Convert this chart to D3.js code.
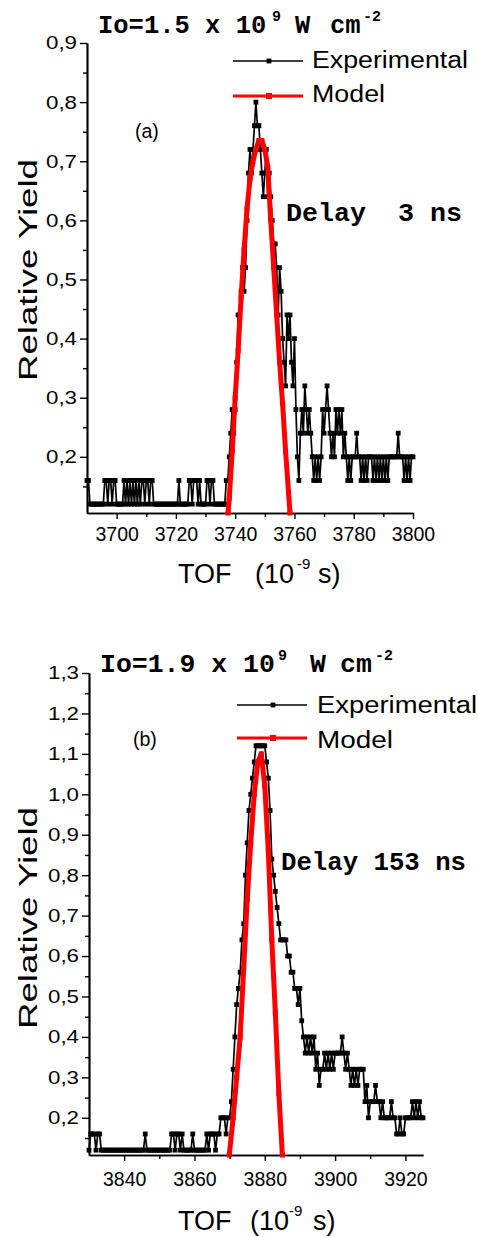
<!DOCTYPE html>
<html><head><meta charset="utf-8">
<script src="https://cdn.jsdelivr.net/npm/d3@7"></script>
<style>body{margin:0;background:#fff}</style>
</head><body><svg id="c" width="478" height="1237"></svg>
<script>
// ---------- Panel (a) data (TOF in ns, relative yield) ----------
const expA_t = [
3690,3690.5,3691,3691.5,3692,3692.5,3693,3693.5,3694,3694.5,
3695,3695.5,3696,3696.5,3697,3697.5,3698,3698.5,3699,3699.5,
3700,3700.5,3701,3701.5,3702,3702.5,3703,3703.5,3704,3704.5,
3705,3705.5,3706,3706.5,3707,3707.5,3708,3708.5,3709,3709.5,
3710,3710.5,3711,3711.5,3712,3712.5,3713,3713.5,3714,3714.5,
3715,3715.5,3716,3716.5,3717,3717.5,3718,3718.5,3719,3719.5,
3720,3720.5,3721,3721.5,3722,3722.5,3723,3723.5,3724,3724.5,
3725,3725.5,3726,3726.5,3727,3727.5,3728,3728.5,3729,3729.5,
3730,3730.5,3731,3731.5,3732,3732.5,3733,3733.5,3734,3734.5,
3735,3735.5,3736,3736.5,3737,3737.5,
3738,3738.5,3739,3739.5,3740,3740.5,3741,3741.5,3742,3742.5,
3743,3743.5,3744,3744.5,3745,3745.5,3746,3746.5,3747,3747.5,
3748,3748.5,3749,3749.5,3750,3750.5,3751,3751.5,3752,3752.5,
3753,3753.5,3754,3754.5,3755,3755.5,3756,3756.5,3757,3757.5,
3758,3758.5,3759,3759.5,3760,3760.5,3761,3761.5,3762,3762.5,
3763,3763.5,3764,3764.5,3765,3765.5,3766,3766.5,3767,3767.5,
3768,3768.5,3769,3769.5,3770,3770.5,3771,3771.5,3772,3772.5,
3773,3773.5,3774,3774.5,3775,3775.5,3776,3776.5,3777,3777.5,
3778,3778.5,3779,3779.5,3780,3780.5,3781,3781.5,3782,3782.5,
3783,3783.5,3784,3784.5,3785,3785.5,3786,3786.5,3787,3787.5,
3788,3788.5,3789,3789.5,3790,3790.5,3791,3791.5,3792,3792.5,
3793,3793.5,3794,3794.5,3795,3795.5,3796,3796.5,3797,3797.5,
3798,3798.5,3799,3799.5,3800];
const expA_y = [
.16,.16,.12,.12,.12,.12,.12,.12,.12,.12,
.12,.12,.16,.16,.12,.16,.16,.12,.16,.16,
.12,.12,.12,.12,.12,.16,.12,.16,.12,.16,
.12,.16,.12,.16,.12,.16,.12,.16,.16,.12,
.16,.16,.12,.16,.16,.12,.12,.12,.12,.12,
.12,.12,.12,.12,.12,.12,.12,.12,.12,.12,
.12,.12,.16,.12,.12,.12,.12,.12,.12,.16,
.16,.12,.16,.16,.16,.12,.16,.12,.12,.12,
.12,.16,.16,.12,.16,.16,.12,.12,.12,.12,
.12,.12,.12,.12,.16,.16,
.20,.24,.28,.24,.28,.36,.44,.44,.48,.52,
.48,.52,.60,.68,.72,.68,.72,.76,.80,.76,
.76,.72,.68,.64,.68,.72,.64,.68,.64,.60,
.56,.56,.52,.44,.52,.48,.40,.36,.32,.44,
.40,.44,.36,.32,.40,.28,.20,.16,.24,.28,
.24,.32,.28,.24,.28,.24,.20,.16,.20,.16,
.20,.16,.20,.28,.24,.28,.32,.28,.24,.20,
.24,.20,.28,.24,.28,.24,.28,.20,.24,.20,
.16,.20,.16,.20,.20,.20,.24,.20,.20,.16,
.20,.16,.20,.16,.20,.20,.20,.16,.20,.16,
.20,.16,.20,.16,.20,.16,.20,.16,.20,.20,
.20,.20,.20,.20,.24,.20,.20,.20,.16,.20,
.16,.20,.16,.20,.20];
const modA_t = [3737.6,3738,3739,3740,3741,3742,3743,3744,3745,3746,3747,3748,3749,3750,3751,3752,3753,3754,3755,3756,3757,3758,3758.5];
const modA_y = [0.105,0.13,0.21,0.30,0.38,0.47,0.55,0.62,0.67,0.70,0.72,0.735,0.735,0.72,0.69,0.60,0.52,0.44,0.36,0.29,0.21,0.14,0.105];
const xMajorA = [3700,3720,3740,3760,3780,3800];
const xMinorA = [3710,3730,3750,3770,3790];
const yMajorA = [0.2,0.3,0.4,0.5,0.6,0.7,0.8,0.9];
const yMinorA = [0.15,0.25,0.35,0.45,0.55,0.65,0.75,0.85];

// ---------- Panel (b) data ----------
const expB_t = [
3830,3830.5,3831,3831.5,3832,3832.5,3833,3833.5,3834,3834.5,
3835,3835.5,3836,3836.5,3837,3837.5,3838,3838.5,3839,3839.5,
3840,3840.5,3841,3841.5,3842,3842.5,3843,3843.5,3844,3844.5,
3845,3845.5,3846,3846.5,3847,3847.5,3848,3848.5,3849,3849.5,
3850,3850.5,3851,3851.5,3852,3852.5,3853,3853.5,3854,3854.5,
3855,3855.5,3856,3856.5,3857,3857.5,3858,3858.5,3859,3859.5,
3860,3860.5,3861,3861.5,3862,3862.5,3863,3863.5,3864,3864.5,
3865,3865.5,3866,3866.5,3867,3867.5,3868,3868.5,3869,3869.5,
3870,3870.5,3871,3871.5,3872,3872.5,3873,3873.5,3874,3874.5,
3875,3875.5,3876,3876.5,3877,3877.5,3878,3878.5,3879,3879.5,
3880,3880.5,3881,3881.5,3882,3882.5,3883,3883.5,3884,3884.5,
3885,3885.5,3886,3886.5,3887,3887.5,3888,3888.5,3889,3889.5,
3890,3890.5,3891,3891.5,3892,3892.5,3893,3893.5,3894,3894.5,
3895,3895.5,3896,3896.5,3897,3897.5,3898,3898.5,3899,3899.5,
3900,3900.5,3901,3901.5,3902,3902.5,3903,3903.5,3904,3904.5,
3905,3905.5,3906,3906.5,3907,3907.5,3908,3908.5,3909,3909.5,
3910,3910.5,3911,3911.5,3912,3912.5,3913,3913.5,3914,3914.5,
3915,3915.5,3916,3916.5,3917,3917.5,3918,3918.5,3919,3919.5,
3920,3920.5,3921,3921.5,3922,3922.5,3923,3923.5,3924,3924.5,
3925];
const expB_y = [
.12,.16,.16,.16,.12,.16,.16,.12,.12,.12,
.12,.12,.12,.12,.12,.12,.12,.12,.12,.12,
.12,.12,.12,.12,.12,.12,.12,.12,.12,.12,
.12,.12,.16,.12,.12,.12,.12,.12,.12,.12,
.12,.12,.12,.12,.12,.12,.12,.16,.16,.12,
.16,.16,.12,.16,.12,.12,.12,.12,.12,.16,
.12,.12,.12,.12,.12,.12,.12,.16,.12,.16,
.16,.16,.12,.16,.16,.20,.20,.20,.16,.20,
.20,.24,.32,.40,.48,.52,.56,.64,.68,.80,
.88,.96,1.00,1.04,1.08,1.12,1.12,1.12,1.12,1.12,
1.12,1.08,1.04,.96,.84,.80,.76,.72,.68,.64,
.64,.64,.64,.60,.60,.56,.56,.52,.52,.48,
.52,.44,.40,.36,.40,.36,.40,.36,.40,.32,
.36,.28,.32,.32,.36,.32,.36,.32,.36,.32,
.36,.36,.36,.36,.40,.36,.32,.36,.32,.28,
.32,.28,.32,.28,.32,.32,.32,.24,.28,.20,
.24,.24,.24,.28,.24,.24,.20,.24,.20,.20,
.20,.20,.24,.20,.20,.16,.16,.20,.16,.16,
.20,.20,.20,.20,.24,.20,.24,.20,.24,.20,
.20];
const modB_t = [3869.9,3871,3872,3873,3874,3875,3876,3877,3878,3879,3880,3881,3882,3883,3884,3885];
const modB_y = [0.108,0.20,0.30,0.40,0.57,0.74,0.88,1.00,1.08,1.10,1.02,0.86,0.64,0.46,0.26,0.108];
const xMajorB = [3840,3860,3880,3900,3920];
const xMinorB = [3850,3870,3890,3910];
const yMajorB = [0.2,0.3,0.4,0.5,0.6,0.7,0.8,0.9,1.0,1.1,1.2,1.3];
const yMinorB = [0.15,0.25,0.35,0.45,0.55,0.65,0.75,0.85,0.95,1.05,1.15,1.25];

const seriesNames = ["Experimental","Model"];

const SANS = "'Liberation Sans', Arial, sans-serif";
const MONO = "'Liberation Mono', 'Courier New', monospace";
const svg = d3.select("#c");

function drawPanel(p) {
  const x = d3.scaleLinear().domain(p.xDomain).range([p.x0, p.x1]);
  const y = d3.scaleLinear().domain(p.yDomain).range([p.y0, p.y1]);
  const g = svg.append("g");
  const fmt = v => d3.format(".1f")(v).replace(".", ",");

  const styleAxis = sel => {
    sel.select(".domain").attr("stroke", "#000").attr("stroke-width", 1.7);
    sel.selectAll(".tick line").attr("stroke", "#000").attr("stroke-width", 1.4);
    sel.selectAll("text").attr("font-family", SANS).attr("fill", "#000");
  };
  g.append("g").attr("transform", `translate(0,${p.y0})`)
    .call(d3.axisBottom(x).tickValues(p.xMinor).tickSize(4).tickFormat("").tickSizeOuter(0)).call(styleAxis);
  g.append("g").attr("transform", `translate(0,${p.y0})`)
    .call(d3.axisBottom(x).tickValues(p.xMajor).tickSize(6).tickPadding(p.xPad).tickSizeOuter(0).tickFormat(d3.format("d")))
    .call(styleAxis).selectAll("text").attr("font-size", 19.5);
  g.append("g").attr("transform", `translate(${p.x0},0)`)
    .call(d3.axisLeft(y).tickValues(p.yMinor).tickSize(4).tickFormat("").tickSizeOuter(0)).call(styleAxis);
  g.append("g").attr("transform", `translate(${p.x0},0)`)
    .call(d3.axisLeft(y).tickValues(p.yMajor).tickSize(7).tickPadding(3).tickSizeOuter(0).tickFormat(fmt))
    .call(styleAxis).selectAll("text").attr("font-size", 18.5)
    .attr("textLength", 31).attr("lengthAdjust", "spacingAndGlyphs");

  const eData = p.expT.map((t, i) => [t, p.expY[i]]);
  const mData = p.modT.map((t, i) => [t, p.modY[i]]);
  const line = d3.line().x(d => x(d[0])).y(d => y(d[1]));
  g.append("path").datum(eData).attr("d", line).attr("fill", "none")
    .attr("stroke", "#000").attr("stroke-width", 1.7);
  g.selectAll("rect.e").data(eData).join("rect").attr("class", "e")
    .attr("x", d => x(d[0]) - 2.4).attr("y", d => y(d[1]) - 2.4)
    .attr("width", 4.8).attr("height", 4.8).attr("fill", "#000");
  g.append("path").datum(mData).attr("d", line).attr("fill", "none")
    .attr("stroke", "#ff0000").attr("stroke-width", 5).attr("stroke-linejoin", "round");
  g.selectAll("rect.m").data(mData).join("rect").attr("class", "m")
    .attr("x", d => x(d[0]) - 2.5).attr("y", d => y(d[1]) - 2.5)
    .attr("width", 5).attr("height", 5).attr("fill", "#ff0000");

  const L = p.legend;
  const lg = g.append("g");
  [["#000", 1.6, 4.8, L.y1, L.t1, seriesNames[0], L.w1], ["#ff0000", 2.8, 6, L.y2, L.t2, seriesNames[1], L.w2]]
    .forEach(([col, sw, ms, ly, ty, name, w]) => {
      lg.append("line").attr("x1", L.lx0).attr("x2", L.lx1).attr("y1", ly).attr("y2", ly)
        .attr("stroke", col).attr("stroke-width", sw);
      lg.append("rect").attr("x", L.mx - ms / 2).attr("y", ly - ms / 2).attr("width", ms).attr("height", ms).attr("fill", col);
      lg.append("text").attr("x", L.tx).attr("y", ty).text(name)
        .attr("font-family", SANS).attr("font-size", 23)
        .attr("textLength", w).attr("lengthAdjust", "spacingAndGlyphs");
    });

  g.append("text").attr("x", p.letter.x).attr("y", p.letter.y).text(p.letter.s)
    .attr("font-family", SANS).attr("font-size", 19.5);

  const T = p.title;
  const tt = (s, xx, yy, fs) => g.append("text").attr("x", xx).attr("y", yy).text(s)
    .attr("font-family", MONO).attr("font-weight", "bold").attr("font-size", fs);
  tt(T.main, T.x, T.y, T.fs);
  tt(T.exp1, T.ex1, T.y - 12, 15);
  tt("W", T.wx, T.y, T.fs);
  tt("cm", T.cx, T.y, T.fs);
  tt("-2", T.ex2, T.y - 12, 15);

  g.append("text").attr("x", p.delay.x).attr("y", p.delay.y).text(p.delay.s)
    .attr("font-family", MONO).attr("font-weight", "bold").attr("font-size", 26)
    .attr("textLength", p.delay.w).attr("lengthAdjust", "spacingAndGlyphs")
    .style("white-space", "pre");

  g.append("text").attr("transform", `translate(${p.yt.x},${p.yt.y}) rotate(-90)`)
    .attr("text-anchor", "middle").text("Relative Yield")
    .attr("font-family", SANS).attr("font-size", 26)
    .attr("textLength", p.yt.w).attr("lengthAdjust", "spacingAndGlyphs");
  const xt = p.xt;
  const st = (s, xx, yy, fs) => g.append("text").attr("x", xx).attr("y", yy).text(s)
    .attr("font-family", SANS).attr("font-size", fs);
  st("TOF", xt.x1, xt.y, 27);
  st("(10", xt.x2, xt.y, 27);
  st("-9", xt.x3, xt.y - 14, 15);
  st("s)", xt.x4, xt.y, 27);
}

drawPanel({
  xDomain: [3690, 3800], yDomain: [0.105, 0.9], x0: 87, x1: 413, y0: 513, y1: 43, xPad: 8,
  xMajor: xMajorA, xMinor: xMinorA, yMajor: yMajorA, yMinor: yMinorA,
  expT: expA_t, expY: expA_y, modT: modA_t, modY: modA_y,
  legend: {lx0: 233, lx1: 303, mx: 269, tx: 312, y1: 61, y2: 96, t1: 68, t2: 102, w1: 156, w2: 73},
  letter: {x: 135, y: 138, s: "(a)"},
  title: {main: "Io=1.5 x 10", x: 98, y: 33, fs: 25.5, exp1: "9", ex1: 272, wx: 295, cx: 330, ex2: 363},
  delay: {x: 286, y: 221, s: "Delay  3 ns", w: 176},
  yt: {x: 37, y: 270, w: 222},
  xt: {y: 583, x1: 178, x2: 255, x3: 297, x4: 318}
});
drawPanel({
  xDomain: [3830, 3925], yDomain: [0.108, 1.3], x0: 89, x1: 423, y0: 1155, y1: 673, xPad: 11,
  xMajor: xMajorB, xMinor: xMinorB, yMajor: yMajorB, yMinor: yMinorB,
  expT: expB_t, expY: expB_y, modT: modB_t, modY: modB_y,
  legend: {lx0: 237, lx1: 307, mx: 273, tx: 317, y1: 705, y2: 738, t1: 713, t2: 748, w1: 160, w2: 76},
  letter: {x: 133, y: 746, s: "(b)"},
  title: {main: "Io=1.9 x 10", x: 100, y: 672, fs: 26.5, exp1: "9", ex1: 278, wx: 310, cx: 340, ex2: 375},
  delay: {x: 281, y: 870, s: "Delay 153 ns", w: 185},
  yt: {x: 37, y: 918, w: 222},
  xt: {y: 1230, x1: 178, x2: 250, x3: 289, x4: 313}
});
</script></body></html>
